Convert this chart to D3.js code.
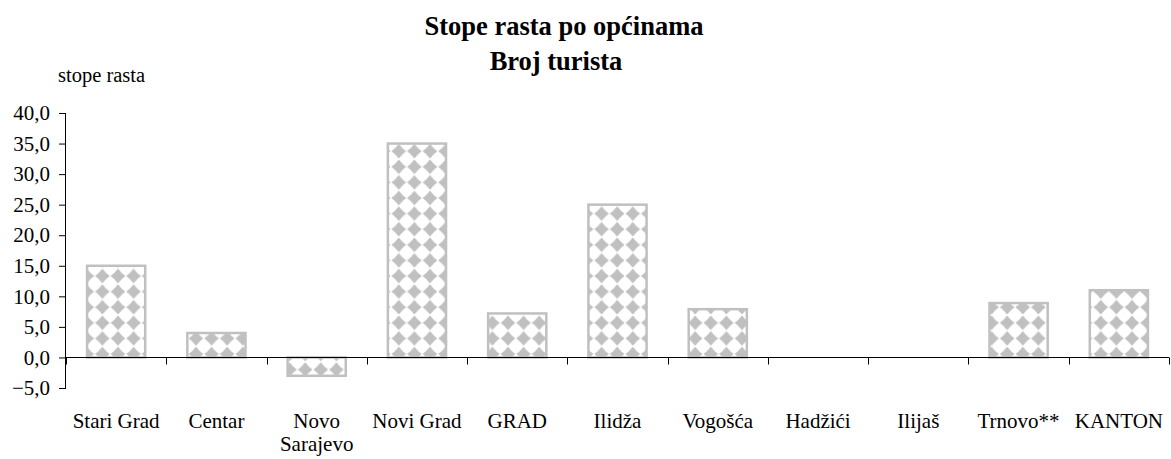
<!DOCTYPE html>
<html>
<head>
<meta charset="utf-8">
<script src="https://cdn.jsdelivr.net/npm/d3@7"></script>
<style>
  body { margin: 0; background: #fff; }
  text { font-family: "Liberation Serif", "Times New Roman", serif; fill: #000; }
</style>
</head>
<body>
<svg width="1171" height="459"></svg>
<script>
// Data
var categories = ["Stari Grad", "Centar", "Novo Sarajevo", "Novi Grad", "GRAD", "Ilidža",
                  "Vogošća", "Hadžići", "Ilijaš", "Trnovo**", "KANTON"];
var values = [15.0, 4.0, -3.0, 35.0, 7.2, 25.0, 7.9, 0, 0, 8.9, 11.0];
var yTicks = [-5, 0, 5, 10, 15, 20, 25, 30, 35, 40];
// labels split over two lines where the picture wraps them
var labelLines = {"Novo Sarajevo": ["Novo", "Sarajevo"]};

var svg = d3.select("svg");

var plot = {left: 66, right: 1169, top: 113, bottom: 388};
var barGray = "#c0c0c0";

// Pattern for bars: gray diamonds on white
var s = 15.6;
var defs = svg.append("defs");
var pat = defs.append("pattern")
    .attr("id", "diamonds")
    .attr("patternUnits", "userSpaceOnUse")
    .attr("width", s)
    .attr("height", s)
    .attr("x", 1)
    .attr("y", 3);
pat.append("rect").attr("width", s).attr("height", s).attr("fill", "#fff");
var a = 0.03 * s, b = 0.97 * s, m = s / 2, c1 = 0.30 * s, c2 = 0.70 * s;
pat.append("path")
    .attr("d", `M${a},${m} Q${c1},${c1} ${m},${a} Q${c2},${c1} ${b},${m}` +
               ` Q${c2},${c2} ${m},${b} Q${c1},${c2} ${a},${m}Z`)
    .attr("fill", barGray);

// Scales
var x = d3.scaleBand()
    .domain(categories)
    .range([plot.left, plot.right])
    .paddingInner(0.42)
    .paddingOuter(0.21);

var y = d3.scaleLinear()
    .domain([-5, 40])
    .range([plot.bottom, plot.top]);

// Title
var title = svg.append("text")
    .attr("text-anchor", "middle")
    .style("font-size", "26.5px")
    .style("font-weight", "bold");
title.append("tspan").attr("x", 564).attr("y", 35).text("Stope rasta po općinama");
title.append("tspan").attr("x", 556).attr("y", 70).text("Broj turista");

svg.append("text")
    .attr("x", 58)
    .attr("y", 82)
    .style("font-size", "20.5px")
    .text("stope rasta");

// Bars
svg.append("g")
    .selectAll("rect")
    .data(categories.map(function(c, i) { return {cat: c, v: values[i]}; })
        .filter(function(d) { return d.v !== 0; }))
    .enter().append("rect")
    .attr("x", function(d) { return x(d.cat); })
    .attr("y", function(d) { return y(Math.max(0, d.v)); })
    .attr("width", x.bandwidth())
    .attr("height", function(d) { return Math.abs(y(d.v) - y(0)); })
    .attr("fill", "url(#diamonds)")
    .attr("stroke", barGray)
    .attr("stroke-width", 2.5);

// Y axis
var yAxis = svg.append("g")
    .attr("transform", `translate(${plot.left},0)`)
    .call(d3.axisLeft(y)
        .tickValues(yTicks)
        .tickSize(7)
        .tickPadding(9)
        .tickFormat(function(d) { return d3.format(".1f")(d).replace(".", ","); }));
yAxis.select(".domain").attr("d", `M-0.5,${plot.top}V${plot.bottom}`);
yAxis.selectAll("text")
    .style("font-family", "'Liberation Serif', serif")
    .style("font-size", "21px");

// X axis line at zero with ticks between categories
var zeroY = Math.round(y(0)) + 0.5;
svg.append("line")
    .attr("x1", plot.left)
    .attr("x2", plot.right)
    .attr("y1", zeroY)
    .attr("y2", zeroY)
    .attr("stroke", "#000");

var bounds = d3.range(categories.length + 1).map(function(i) { return plot.left + i * x.step(); });
svg.append("g")
    .selectAll("line")
    .data(bounds)
    .enter().append("line")
    .attr("x1", function(d) { return Math.round(d) + 0.5; })
    .attr("x2", function(d) { return Math.round(d) + 0.5; })
    .attr("y1", zeroY)
    .attr("y2", zeroY + 7)
    .attr("stroke", "#000");

// Category labels
var labels = svg.append("g")
    .selectAll("text")
    .data(categories)
    .enter().append("text")
    .attr("text-anchor", "middle")
    .style("font-size", "21px");
labels.each(function(d) {
    var lines = labelLines[d] || [d];
    var t = d3.select(this);
    lines.forEach(function(line, k) {
        t.append("tspan")
            .attr("x", x(d) + x.bandwidth() / 2)
            .attr("y", 428 + k * 23)
            .text(line);
    });
});
</script>
</body>
</html>
